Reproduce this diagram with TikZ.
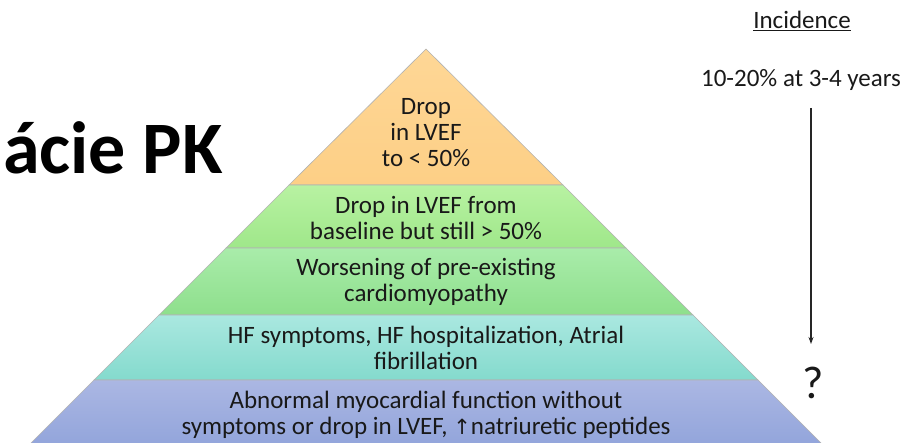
\documentclass[tikz,border=0pt]{standalone}
\usepackage{fontspec}
\setmainfont{Carlito}
\newfontfamily\dejavu{DejaVu Sans}
\usetikzlibrary{arrows.meta}
\definecolor{orA}{HTML}{FED796}
\definecolor{orB}{HTML}{FDCF86}
\definecolor{lgA}{HTML}{B8F2A2}
\definecolor{lgB}{HTML}{9FE78A}
\definecolor{gnA}{HTML}{A9ECAA}
\definecolor{gnB}{HTML}{8EDF8C}
\definecolor{tlA}{HTML}{AAE8E0}
\definecolor{tlB}{HTML}{84DACD}
\definecolor{blA}{HTML}{ABB7E3}
\definecolor{blB}{HTML}{8CA0D9}
\tikzset{
  layer/.style={draw=black!30, line width=0.6pt},
  lbl/.style={align=center, font=\fontsize{25}{26}\selectfont, text=black!90, inner sep=0pt},
  side/.style={font=\fontsize{25}{28}\selectfont, text=black!90, inner sep=0pt},
}
\begin{document}
\begin{tikzpicture}[x=1pt,y=-1pt]
\useasboundingbox (0,0) rectangle (907,443);
% layers
\shade[layer, top color=orA, bottom color=orB] (426,49) -- (563,185) -- (289,185) -- cycle;
\shade[layer, top color=lgA, bottom color=lgB] (289,185) -- (563,185) -- (626,248) -- (226,248) -- cycle;
\shade[layer, top color=gnA, bottom color=gnB] (226,248) -- (626,248) -- (693,315) -- (159,315) -- cycle;
\shade[layer, top color=tlA, bottom color=tlB] (159,315) -- (693,315) -- (758,380) -- (94,380) -- cycle;
\shade[layer, top color=blA, bottom color=blB] (94,380) -- (758,380) -- (840,462) -- (12,462) -- cycle;
% layer labels
\node[lbl] (t1) at (426,133) {Drop\\in LVEF\\to < 50\%};
\node[lbl] (t2) at (426,218) {Drop in LVEF from\\baseline but still > 50\%};
\node[lbl] (t3) at (426,282) {Worsening of pre-existing\\cardiomyopathy};
\node[lbl] (t4) at (426,348) {HF symptoms, HF hospitalization, Atrial\\fibrillation};
\node[lbl] (t5) at (426,415) {Abnormal myocardial function without\\symptoms or drop in LVEF, {\dejavu\fontsize{21}{26}\selectfont ↑}natriuretic peptides};
% title fragment
\node[anchor=base east, inner sep=0pt, font=\fontsize{74}{76}\selectfont\bfseries] (title) at (223,174) {ácie PK};
% incidence column
\node[side] (inc) at (802,21) {\underline{Incidence}};
\node[side] (rate) at (801,80) {10-20\% at 3-4 years};
\node[inner sep=0pt, font=\fontsize{46}{48}\selectfont, text=black!90] (q) at (813,383) {?};
\coordinate (arrS) at (811,108);
\coordinate (arrE) at (811,344);
\draw[line width=1.3pt, black!85, -{Stealth[length=7pt,width=5pt]}] (arrS) -- (arrE);
\end{tikzpicture}
\end{document}
